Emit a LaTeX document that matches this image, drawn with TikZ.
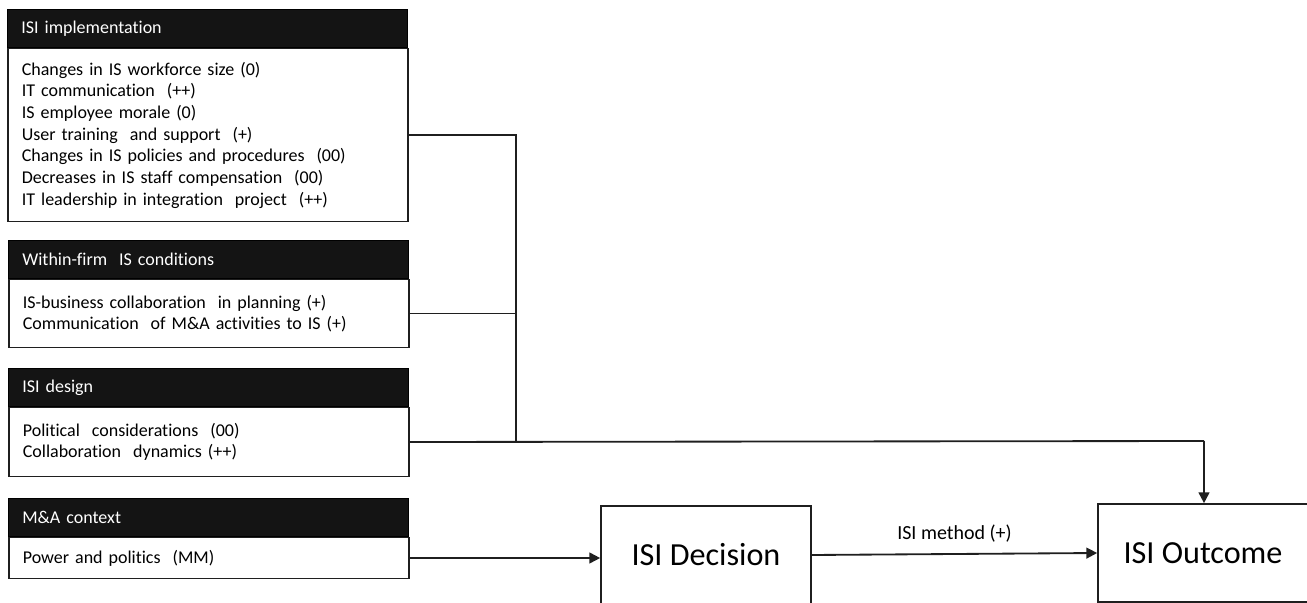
\documentclass[tikz,border=0pt]{standalone}
\usepackage{fontspec}
\setmainfont{Carlito}[Ligatures=NoCommon]
\usetikzlibrary{arrows.meta, positioning}

\tikzset{
    headbox/.style={rectangle, draw=black, fill=black!92, text=white, anchor=north west,
        minimum width=240pt, text width=223.2pt, inner xsep=8.4pt, minimum height=22.8pt,
        align=left, font=\fontsize{10.8}{13}\selectfont},
    bodybox/.style={rectangle, draw=black!88, line width=1pt, anchor=north west,
        minimum width=240pt, text width=223.2pt, inner xsep=8.4pt,
        align=left, font=\fontsize{10.8}{13}\selectfont},
    stagebox/.style={rectangle, draw=black!88, line width=1pt, minimum width=126pt,
        minimum height=58.8pt, font=\fontsize{19.3}{23}\selectfont},
    link/.style={draw=black!88, line width=1.1pt},
    arrow/.style={link, -{Triangle[length=6.5pt,width=6.5pt]}}
}

\begin{document}
\begin{tikzpicture}[x=0.6pt, y=-0.6pt]

    \clip (0,0) rectangle (1307,603);

    \node[headbox] (implhead) at (7, 9) {ISI implementation};
    \node[bodybox, minimum height=103.8pt] (impl) at (implhead.south west) {Changes in IS workforce size (0)\\
        IT communication~ (++)\\
        IS employee morale (0)\\
        User training~ and support~ (+)\\
        Changes in IS policies and procedures~ (00)\\
        Decreases in IS staff compensation~ (00)\\
        IT leadership in integration~ project~ (++)};

    \node[headbox] (condhead) at (8, 240) {Within-firm~ IS conditions};
    \node[bodybox, minimum height=40.8pt] (cond) at (condhead.south west) {IS-business collaboration~ in planning (+)\\
        Communication~ of M\&A activities to IS (+)};

    \node[headbox] (designhead) at (8, 368) {ISI design};
    \node[bodybox, minimum height=41.4pt] (design) at (designhead.south west) {Political~ considerations~ (00)\\
        Collaboration~ dynamics (++)};

    \node[headbox] (ctxhead) at (8, 498) {M\&A context};
    \node[bodybox, minimum height=24.6pt] (ctx) at (ctxhead.south west) {Power and politics~ (MM)};

    \node[stagebox] (decision) at (706, 555) {ISI Decision};
    \node[stagebox] (outcome) at (1203, 553) {ISI Outcome};

    \coordinate (bus) at (516, 441);
    \coordinate (drop) at (1204, 441);

    \draw[link] (impl.east) -| (bus);
    \draw[link] (cond.east) -- (cond.east -| bus);
    \draw[link] (design.east) -- (drop);
    \draw[arrow] (drop) -- (drop |- outcome.north);
    \draw[arrow] (ctx.east) -- (ctx.east -| decision.west);
    \draw[arrow] (decision.east) -- node[above=3pt, font=\fontsize{12}{14}\selectfont] (method) {ISI method (+)} (outcome.west);

\end{tikzpicture}
\end{document}
